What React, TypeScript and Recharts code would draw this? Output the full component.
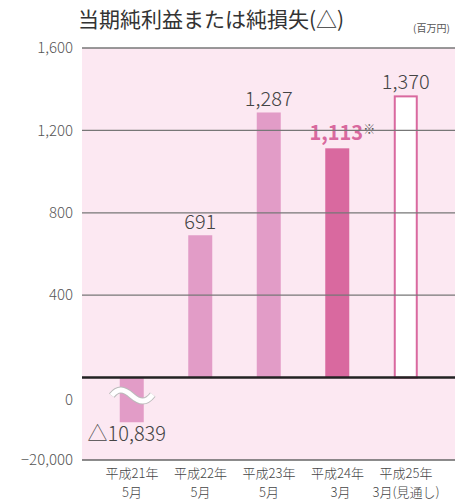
import React from 'react'
import { BarChart, Bar, XAxis, YAxis, Cell, ReferenceLine, CartesianGrid } from 'recharts'

const yearLabels = ['平成21年', '平成22年', '平成23年', '平成24年', '平成25年']
const monthLabels = ['5月', '5月', '5月', '3月', '3月(見通し)']
const values = [-10839, 691, 1287, 1113, 1370]
const valueLabels = ['△10,839', '691', '1,287', '1,113', '1,370']
const yTicks = [-20000, 0, 400, 800, 1200, 1600]
const yTickLabels = ['−20,000', '0', '400', '800', '1,200', '1,600']

// broken axis: negative side is squeezed 50x
const squeeze = (v: number) => (v >= 0 ? v : v / 50)

const FONT = '"Noto Sans CJK JP", "Noto Sans", sans-serif'
const BG = '#fce8f2'
const LIGHT = '#e29cc7'
const DARK = '#d9699f'

const data = yearLabels.map((y, i) => ({
  pos: i,
  name: y,
  v: squeeze(values[i]),
  label: valueLabels[i],
}))

const YTick = ({ x, y, payload }: any) => {
  const idx = yTicks.map(squeeze).indexOf(payload.value)
  const dy = payload.value === 0 ? 22 : 0
  return (
    <text x={x - 1} y={y + dy} dy="0.35em" textAnchor="end" fontSize={15} fill="#555" fontFamily={FONT} fontWeight={300}>
      {yTickLabels[idx]}
    </text>
  )
}

const XTick = ({ x, y, payload }: any) => {
  const i = Math.round(payload.value)
  return (
    <g>
      <text x={x} y={y + 5} dy="0.35em" textAnchor="middle" fontSize={13} fill="#444" fontFamily={FONT} fontWeight={300}>
        {yearLabels[i]}
      </text>
      <text x={x + (i === 3 ? 3 : 0)} y={y + 24} dy="0.35em" textAnchor="middle" fontSize={13} fill="#444" fontFamily={FONT} fontWeight={300}>
        {monthLabels[i]}
      </text>
    </g>
  )
}

const BarShape = (props: any) => {
  const { x, y, width, height, index, fill, stroke } = props
  const top = Math.min(y, y + height)
  const h = Math.abs(height)
  const cx = x + width / 2
  const rect =
    index === 4 ? (
      <rect x={x + 1} y={top + 1} width={width - 2} height={h - 1} fill="#fff" stroke={stroke} strokeWidth={2} />
    ) : (
      <rect x={x} y={top} width={width} height={h} fill={fill} />
    )
  if (index === 0) {
    const wy = top + 18
    const wave = `M${cx - 20},${wy} C${cx - 14},${wy - 8} ${cx - 8},${wy - 7} ${cx},${wy} C${cx + 8},${wy + 7} ${cx + 14},${wy + 8} ${cx + 21},${wy - 1}`
    return (
      <g>
        {rect}
        <path d={wave} fill="none" stroke="#bbb" strokeWidth={7} />
        <path d={wave} fill="none" stroke="#fff" strokeWidth={5} />
        <text x={cx - 5} y={top + h + 12} dy="0.35em" textAnchor="middle" fontSize={20} fill="#444" fontFamily={FONT} fontWeight={300}>
          {data[index].label}
        </text>
      </g>
    )
  }
  if (index === 3) {
    return (
      <g>
        {rect}
        <rect x={307} y={top - 25} width={74} height={20} fill={BG} />
        <text x={cx - 1} y={top - 15} dy="0.35em" textAnchor="middle" fontSize={20} fill={DARK} fontFamily={FONT} fontWeight={600}>
          {data[index].label}
        </text>
        <text x={cx + 32} y={top - 19} dy="0.35em" textAnchor="middle" fontSize={12} fill="#555" fontFamily={FONT}>
          ※
        </text>
      </g>
    )
  }
  return (
    <g>
      {rect}
      <text x={cx} y={top - 13} dy="0.35em" textAnchor="middle" fontSize={20} fill="#444" fontFamily={FONT} fontWeight={300}>
        {data[index].label}
      </text>
    </g>
  )
}

export default function App() {
  return (
    <div style={{ position: 'absolute', left: 0, top: 0, width: 469, height: 504, background: '#fff', fontFamily: FONT }}>
      <div style={{ position: 'absolute', left: 78, top: 5, fontSize: 21, color: '#333', whiteSpace: 'nowrap', lineHeight: '27px' }}>
        当期純利益または純損失(△)
      </div>
      <div style={{ position: 'absolute', left: 413, top: 21, fontSize: 10, color: '#555', whiteSpace: 'nowrap', lineHeight: '14px' }}>
        (百万円)
      </div>
      <BarChart width={469} height={504} data={data} margin={{ top: 48, right: 14, bottom: 4, left: 0 }}>
        <CartesianGrid fill={BG} horizontal={false} vertical={false} />
        {[400, 800, 1200, 1600].map((t) => (
          <ReferenceLine key={t} y={t} stroke="#777" strokeWidth={1.3} />
        ))}
        <ReferenceLine y={-400} stroke="#666" strokeWidth={1.6} />
        <XAxis
          dataKey="pos"
          type="number"
          domain={[-0.73, 4.715]}
          ticks={[0, 1, 2, 3, 4]}
          axisLine={false}
          tickLine={false}
          height={40}
          tick={<XTick />}
          interval={0}
        />
        <YAxis
          type="number"
          domain={[-400, 1600]}
          ticks={yTicks.map(squeeze)}
          axisLine={false}
          tickLine={false}
          width={82}
          tick={<YTick />}
          interval={0}
        />
        <Bar dataKey="v" barSize={24} isAnimationActive={false} shape={<BarShape />}>
          {data.map((d, i) => (
            <Cell key={d.name} fill={i === 3 ? DARK : i === 4 ? '#fff' : LIGHT} stroke={i === 4 ? DARK : 'none'} />
          ))}
        </Bar>
        <ReferenceLine y={0} stroke="#222" strokeWidth={2.5} />
      </BarChart>
    </div>
  )
}
